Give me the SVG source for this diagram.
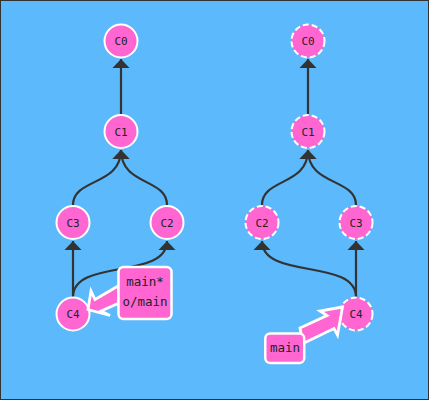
<svg xmlns="http://www.w3.org/2000/svg" width="429" height="400" viewBox="0 0 429 400">
<style>
.bg{fill:#5cb9fb;stroke:#333;stroke-width:1}
.edge{fill:none;stroke:#333;stroke-width:2.2;marker-end:url(#ah)}
.commit circle{fill:#ff66d2;stroke:#fff;stroke-width:2}
.ghost circle{stroke-dasharray:6,3}
.commit text{font-family:"DejaVu Sans Mono","Liberation Mono",monospace;font-size:11px;fill:#222;text-anchor:middle}
.tag rect{fill:#ff66d2;stroke:#fff;stroke-width:2.5}
.tag polygon{fill:#ff66d2;stroke:#fff;stroke-width:2.8;stroke-linejoin:miter}
.tag text{font-family:"DejaVu Sans Mono","Liberation Mono",monospace;font-size:12.5px;fill:#222;text-anchor:middle}
</style>
<defs>
<marker id="ah" markerUnits="userSpaceOnUse" viewBox="0 -9 10 18" refX="9" refY="0" markerWidth="10" markerHeight="18" orient="auto">
<path d="M0,-8.5 L9,0 L0,8.5 Z" fill="#333"/>
</marker>
</defs>
<rect class="bg" x="0.5" y="0.5" width="428" height="399"/>
<g id="connectors">
<path class="edge" d="M121,114 L121,59"/>
<path class="edge" d="M73,205 C73,178 121,186 121,150"/>
<path class="edge" d="M167,205 C167,178 121,186 121,150"/>
<path class="edge" d="M73,297 L73,241"/>
<path class="edge" d="M73,297 C73,258 167,280 167,241"/>
<path class="edge" d="M308,114 L308,59"/>
<path class="edge" d="M262,205 C262,178 308,186 308,150"/>
<path class="edge" d="M356,205 C356,178 308,186 308,150"/>
<path class="edge" d="M356,297 L356,241"/>
<path class="edge" d="M356,297 C356,258 262,280 262,241"/>
</g>
<g id="L-C0" class="commit"><circle cx="121" cy="41" r="16.5"/><text x="121" y="45">C0</text></g>
<g id="L-C1" class="commit"><circle cx="121" cy="131.5" r="16.5"/><text x="121" y="135.5">C1</text></g>
<g id="L-C3" class="commit"><circle cx="73" cy="222.5" r="16.5"/><text x="73" y="226.5">C3</text></g>
<g id="L-C2" class="commit"><circle cx="167" cy="222.5" r="16.5"/><text x="167" y="226.5">C2</text></g>
<g id="L-C4" class="commit"><circle cx="73" cy="314" r="16.5"/><text x="73" y="318">C4</text></g>
<g id="R-C0" class="commit ghost"><circle cx="308" cy="41" r="16.5"/><text x="308" y="45">C0</text></g>
<g id="R-C1" class="commit ghost"><circle cx="308" cy="131.5" r="16.5"/><text x="308" y="135.5">C1</text></g>
<g id="R-C2" class="commit ghost"><circle cx="262" cy="222.5" r="16.5"/><text x="262" y="226.5">C2</text></g>
<g id="R-C3" class="commit ghost"><circle cx="356" cy="222.5" r="16.5"/><text x="356" y="226.5">C3</text></g>
<g id="R-C4" class="commit ghost"><circle cx="356" cy="314" r="16.5"/><text x="356" y="318">C4</text></g>
<g id="L-tag" class="tag">
<polygon points="88,309.5 91,291 95,299.5 119,285.5 119,303 101,311 110,315.5"/>
<rect x="118.5" y="267" width="53" height="52" rx="5"/>
<text x="145" y="286">main*</text>
<text x="145" y="306">o/main</text>
</g>
<g id="R-tag" class="tag">
<polygon points="342.5,307 320,311 327,315.5 300,328 303,343.5 334,328.5 337.5,335"/>
<rect x="265.25" y="333.5" width="39" height="29.5" rx="5"/>
<text x="285" y="352">main</text>
</g>
</svg>
